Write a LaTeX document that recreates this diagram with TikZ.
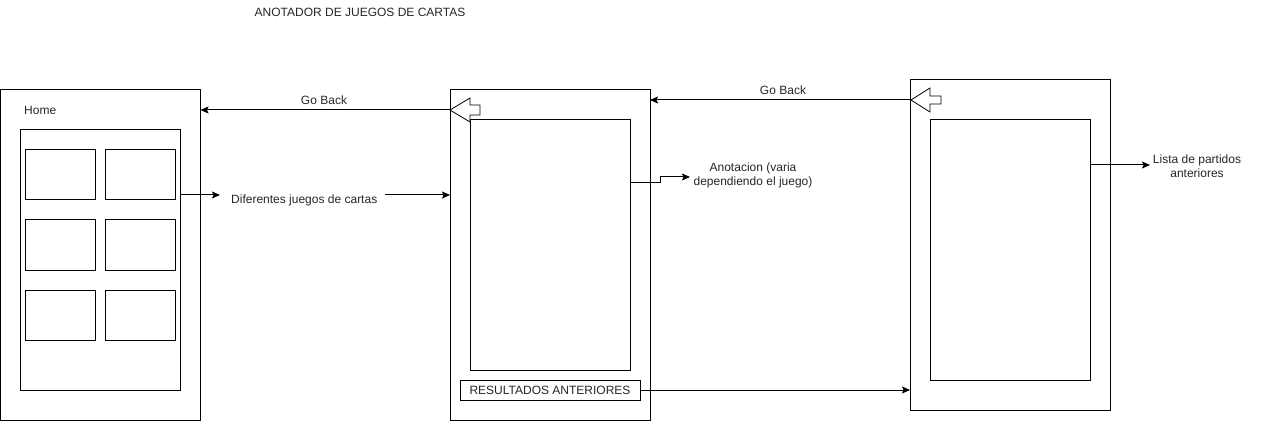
\documentclass[tikz,border=0pt]{standalone}
\usepackage{fontspec}
\setmainfont{Liberation Sans}
\usetikzlibrary{arrows.meta}
\begin{document}
\begin{tikzpicture}[x=1pt,y=-1pt,
  box/.style={draw=black,line width=1pt,fill=white,inner sep=0pt,outer sep=0pt,anchor=north west},
  lbl/.style={inner sep=1pt,font=\fontsize{12pt}{14pt}\selectfont,text=black!85,align=center},
  conn/.style={draw=black,line width=1pt,-{Stealth[length=8pt,width=7pt,inset=1.5pt]}},
  blk/.style={draw=black,line width=0.8pt,fill=white,line join=miter}]
\useasboundingbox (0,0) rectangle (1261,422);
\node[lbl] (title) at (360,12) {ANOTADOR DE JUEGOS DE CARTAS};
% Home screen
\node[box,minimum width=200pt,minimum height=330pt] (home) at (0.5,90) {};
\node[lbl,anchor=west] (homet) at (23,110) {Home};
\node[box,minimum width=160pt,minimum height=260pt] (hi) at (20,130) {};
\node[box,minimum width=70pt,minimum height=50pt] (c1) at (25,150) {};
\node[box,minimum width=70pt,minimum height=50pt] (c2) at (105,150) {};
\node[box,minimum width=70pt,minimum height=50pt] (c3) at (25,220) {};
\node[box,minimum width=70pt,minimum height=50pt] (c4) at (105,220) {};
\node[box,minimum width=70pt,minimum height=50pt] (c5) at (25,290) {};
\node[box,minimum width=70pt,minimum height=50pt] (c6) at (105,290) {};
% Middle screen
\node[box,minimum width=200pt,minimum height=330pt] (mid) at (450,90) {};
\node[box,minimum width=160pt,minimum height=250pt] (mi) at (470,120) {};
\node[box,minimum width=180pt,minimum height=20pt,anchor=center,font=\fontsize{12pt}{14pt}\selectfont,text=black!85] (res) at (550,390) {RESULTADOS ANTERIORES};
% Right screen
\node[box,minimum width=200pt,minimum height=330pt] (rgt) at (910,80) {};
\node[box,minimum width=160pt,minimum height=260pt] (ri) at (930,120) {};
% block arrows
\draw[blk] (450,110) -- (470,98) -- (470,105) -- (480,105) -- (480,115) -- (470,115) -- (470,122) -- cycle;
\coordinate (bk1) at (450,110);
\draw[blk] (911,100) -- (930,88) -- (930,96) -- (941,96) -- (941,104) -- (930,104) -- (930,112) -- cycle;
\coordinate (bk2) at (911,100);
% labels
\node[lbl] (gb1) at (324,100) {Go Back};
\node[lbl] (gb2) at (783,90) {Go Back};
\node[lbl,anchor=west] (dif) at (230,200) {Diferentes juegos de cartas};
\node[lbl] (anot) at (753,175) {Anotacion (varia\\dependiendo el juego)};
\node[lbl] (lista) at (1197,166) {Lista de partidos\\anteriores};
% connectors
\draw[conn] (bk1) -- (home.east |- bk1);
\draw[conn] (bk2) -- (mid.east |- bk2);
\draw[conn] (hi.east |- 0,195) -- (220,195);
\draw[conn] (385,195) -- (mid.west |- 0,195);
\coordinate (a0) at (mi.east |- 0,183);
\coordinate (a1) at (690,177);
\draw[conn] (a0) -- (660,183) -- (660,177) -- (a1);
\draw[conn] (res.east) -- (rgt.west |- res.east);
\draw[conn] (ri.east |- 0,165) -- (1150,165);
\end{tikzpicture}
\end{document}
